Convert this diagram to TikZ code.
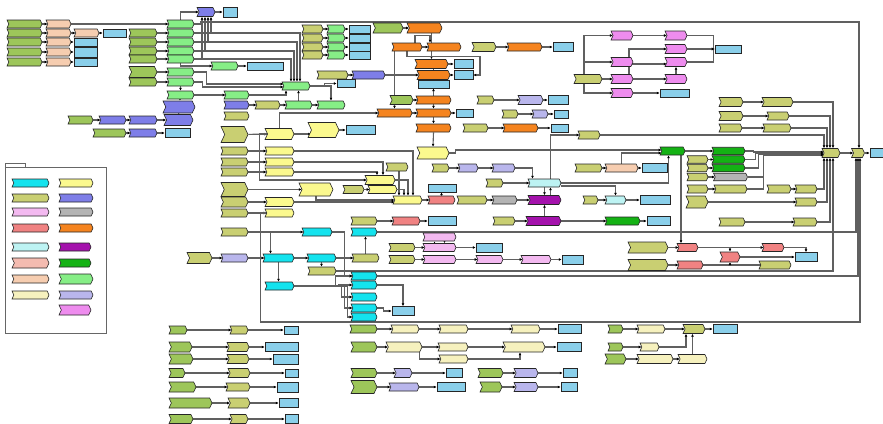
\documentclass[tikz,border=0pt]{standalone}
\usepackage{xcolor}
\usepackage{tikz}
\usetikzlibrary{arrows.meta,shapes.symbols,backgrounds}
\definecolor{cIn}{HTML}{9DC65A}
\definecolor{cKh}{HTML}{C9CF72}
\definecolor{cLi}{HTML}{86EE86}
\definecolor{cOut}{HTML}{8ACFEA}
\definecolor{cOr}{HTML}{F5841F}
\definecolor{cSl}{HTML}{7E7EE8}
\definecolor{cPk}{HTML}{F3B9F0}
\definecolor{cVi}{HTML}{EE8CEE}
\definecolor{cSa}{HTML}{F08282}
\definecolor{cPe}{HTML}{F6CDB0}
\definecolor{cPp}{HTML}{F4BBB0}
\definecolor{cYe}{HTML}{FBF98E}
\definecolor{cCr}{HTML}{F6F1BE}
\definecolor{cCy}{HTML}{14E3EE}
\definecolor{cLc}{HTML}{BDF3F3}
\definecolor{cMg}{HTML}{A412AC}
\definecolor{cGr}{HTML}{14B214}
\definecolor{cGy}{HTML}{B4B4B4}
\definecolor{cLv}{HTML}{B9B6EC}
\definecolor{cLine}{HTML}{606060}

\begin{document}
\begin{tikzpicture}[x=1pt,y=-1pt,
  nd/.style={signal,signal to=east,signal from=west,signal pointer angle=130,
             draw=black!85,line width=0.6pt,inner sep=0pt,minimum height=8pt},
  wd/.style={minimum width=#1pt},
  ht/.style={minimum height=#1pt},
  nIn/.style={nd,fill=cIn}, nKh/.style={nd,fill=cKh}, nLi/.style={nd,fill=cLi},
  nOr/.style={nd,fill=cOr}, nSl/.style={nd,fill=cSl}, nPk/.style={nd,fill=cPk},
  nVi/.style={nd,fill=cVi}, nSa/.style={nd,fill=cSa}, nPe/.style={nd,fill=cPe},
  nPp/.style={nd,fill=cPp}, nYe/.style={nd,fill=cYe}, nCr/.style={nd,fill=cCr},
  nCy/.style={nd,fill=cCy}, nLc/.style={nd,fill=cLc}, nMg/.style={nd,fill=cMg},
  nGr/.style={nd,fill=cGr}, nGy/.style={nd,fill=cGy}, nLv/.style={nd,fill=cLv},
  nOut/.style={rectangle,draw=black!85,line width=0.6pt,inner sep=0pt,
               minimum height=8pt,fill=cOut},
  ar/.style={line width=1.1pt,cLine,-{Latex[length=2.8pt,width=2.8pt,color=black]}}]
\useasboundingbox (0,0) rectangle (883,423);
\draw[draw=black!60,fill=white,line width=0.6pt] (5,163) rectangle (25,167);
\draw[draw=black!60,fill=white,line width=0.6pt] (5,167) rectangle (106,333);
\node[nCy,wd=37] (l1) at (30.5,183) {};
\node[nKh,wd=37] (l2) at (30.5,198) {};
\node[nPk,wd=37] (l3) at (30.5,212) {};
\node[nSa,wd=37] (l4) at (30.5,228) {};
\node[nLc,wd=37] (l5) at (30.5,247) {};
\node[nPp,wd=37,ht=10] (l6) at (30.5,263) {};
\node[nPe,wd=37] (l7) at (30.5,279) {};
\node[nCr,wd=37] (l8) at (30.5,295) {};
\node[nYe,wd=34] (r1) at (76,183) {};
\node[nSl,wd=34] (r2) at (76,198) {};
\node[nGy,wd=34] (r3) at (76,212) {};
\node[nOr,wd=34] (r4) at (76,228) {};
\node[nMg,wd=32] (r5) at (75,247) {};
\node[nGr,wd=32] (r6) at (75,263) {};
\node[nLi,wd=34,ht=10] (r7) at (76,279) {};
\node[nLv,wd=34] (r8) at (76,295) {};
\node[nVi,wd=32,ht=10] (r9) at (75,310) {};

\node[nIn,wd=35] (a1) at (24.5,24) {};
\node[nIn,wd=35] (a2) at (24.5,33) {};
\node[nIn,wd=35] (a3) at (24.5,42) {};
\node[nIn,wd=35] (a4) at (24.5,52) {};
\node[nIn,wd=35] (a5) at (24.5,62) {};
\node[nPe,wd=25] (b1) at (58.5,24) {};
\node[nPe,wd=25] (b2) at (58.5,33) {};
\node[nPe,wd=25] (b3) at (58.5,42) {};
\node[nPe,wd=25] (b4) at (58.5,52) {};
\node[nPe,wd=25] (b5) at (58.5,62) {};
\node[nPe,wd=25] (b6) at (86.5,33) {};
\node[nOut,wd=23] (o2) at (114.5,33) {};
\node[nOut,wd=23] (o3) at (85.5,42) {};
\node[nOut,wd=23,ht=10] (o4) at (85.5,52) {};
\node[nOut,wd=23] (o5) at (85.5,62) {};
\node[nIn,wd=28] (i2) at (143,33) {};
\node[nIn,wd=28] (i3) at (143,42) {};
\node[nIn,wd=28] (i4) at (143,51) {};
\node[nIn,wd=28] (i5) at (143,59) {};
\node[nIn,wd=28,ht=11] (i6) at (143,72) {};
\node[nIn,wd=28] (i7) at (143,82) {};
\node[nLi,wd=27] (g1) at (180.5,24) {};
\node[nLi,wd=27] (g2) at (180.5,33) {};
\node[nLi,wd=27] (g3) at (180.5,42) {};
\node[nLi,wd=27] (g4) at (180.5,51) {};
\node[nLi,wd=27] (g5) at (180.5,59) {};
\node[nLi,wd=27] (g6) at (180.5,72) {};
\node[nLi,wd=27] (g7) at (180.5,82) {};
\node[nSl,wd=18,ht=9] (p0) at (206,12) {};
\node[nOut,wd=14,ht=10] (o0) at (230,12) {};
\node[nLi,wd=27] (s1) at (224.5,66) {};
\node[nOut,wd=36] (o6) at (265,66) {};
\node[nLi,wd=27] (g8) at (180.5,95) {};
\node[nSl,wd=32,ht=12] (pb1) at (179,107) {};
\node[nSl,wd=29,ht=11] (pb2) at (178.5,120) {};
\node[nOut,wd=25,ht=9] (ob1) at (177.5,133) {};
\node[nIn,wd=25] (x1) at (80.5,120) {};
\node[nSl,wd=27] (x2) at (112.5,120) {};
\node[nSl,wd=28] (x3) at (143,120) {};
\node[nIn,wd=33] (y1) at (109.5,133) {};
\node[nSl,wd=28] (y2) at (143,133) {};
\node[nLi,wd=25] (u1) at (236.5,95) {};
\node[nSl,wd=25] (u2) at (236.5,105) {};
\node[nKh,wd=25] (u3) at (236.5,116) {};
\node[nLi,wd=28] (h0) at (296,86) {};
\node[nKh,wd=25] (v1) at (267.5,105) {};
\node[nLi,wd=27] (v2) at (298.5,105) {};
\node[nLi,wd=28] (v3) at (331,105) {};
\node[nKh,wd=21] (k1) at (312.5,29) {};
\node[nKh,wd=21] (k2) at (312.5,38) {};
\node[nKh,wd=21] (k3) at (312.5,47) {};
\node[nKh,wd=21] (k4) at (312.5,55) {};
\node[nLi,wd=18] (m1) at (336,29) {};
\node[nLi,wd=18] (m2) at (336,38) {};
\node[nLi,wd=18] (m3) at (336,47) {};
\node[nLi,wd=18] (m4) at (336,55) {};
\node[nOut,wd=21] (q1) at (359.5,29) {};
\node[nOut,wd=21] (q2) at (359.5,38) {};
\node[nOut,wd=21] (q3) at (359.5,47) {};
\node[nOut,wd=21] (q4) at (359.5,55) {};
\node[nKh,wd=31] (kk1) at (332.5,75) {};
\node[nSl,wd=33] (pp1) at (368.5,75) {};
\node[nOut,wd=18] (o7) at (346,83.5) {};

\node[nIn,wd=30,ht=10] (ok1) at (388,28) {};
\node[nOr,wd=35,ht=10] (or1) at (424.5,28) {};
\node[nOr,wd=30] (or2) at (407,47) {};
\node[nOr,wd=34] (or3) at (444,47) {};
\node[nOr,wd=33,ht=9] (or4) at (431.5,64) {};
\node[nOut,wd=19,ht=9] (ob4) at (463.5,64) {};
\node[nOr,wd=33,ht=9] (or5) at (433.5,75) {};
\node[nOut,wd=19,ht=9] (ob5) at (463.5,75) {};
\node[nOut,wd=31] (ob6) at (433.5,84) {};
\node[nIn,wd=23,ht=9] (ok2) at (401.5,100) {};
\node[nOr,wd=35] (or6) at (433.5,100) {};
\node[nOr,wd=35] (or7) at (394.5,113) {};
\node[nOr,wd=35] (or8) at (433.5,113) {};
\node[nOut,wd=17] (ob8) at (464.5,113) {};
\node[nOr,wd=35] (or9) at (433.5,128) {};
\node[nKh,wd=24,ht=9] (rk1) at (484,47) {};
\node[nOr,wd=35] (ro1) at (524.5,47) {};
\node[nOut,wd=20,ht=9] (rb1) at (563,47) {};
\node[nKh,wd=17] (rk2) at (485.5,100) {};
\node[nLv,wd=25,ht=9] (rl2) at (530.5,100) {};
\node[nOut,wd=20,ht=9] (rb2) at (558,100) {};
\node[nKh,wd=16] (rk3) at (510,114) {};
\node[nLv,wd=16] (rl3) at (540,114) {};
\node[nOut,wd=14] (rb3) at (561,114) {};
\node[nKh,wd=25] (rk4) at (475.5,128) {};
\node[nOr,wd=35] (ro4) at (520.5,128) {};
\node[nOut,wd=17] (rb4) at (559.5,128) {};

\node[nKh,wd=28,ht=9] (pk) at (588,79) {};
\node[nVi,wd=22,ht=9] (pv1) at (622,35.5) {};
\node[nVi,wd=22,ht=9] (pv2) at (622,62) {};
\node[nVi,wd=22,ht=9] (pv3) at (622,79) {};
\node[nVi,wd=22,ht=9] (pv4) at (622,93) {};
\node[nVi,wd=22,ht=9] (pw1) at (676,35.5) {};
\node[nVi,wd=22,ht=9] (pw2) at (676,49) {};
\node[nVi,wd=22,ht=9] (pw3) at (676,62) {};
\node[nVi,wd=22,ht=9] (pw4) at (676,79) {};
\node[nOut,wd=26] (pvo) at (728,49) {};
\node[nOut,wd=29] (pwo) at (674.5,93) {};

\node[nKh,wd=24,ht=9] (rt1) at (731,102) {};
\node[nKh,wd=31,ht=9] (rt1b) at (777.5,102) {};
\node[nKh,wd=24,ht=9] (rt2) at (731,116) {};
\node[nKh,wd=22] (rt2b) at (778,116) {};
\node[nKh,wd=23] (rt3) at (730.5,128) {};
\node[nKh,wd=28] (rt3b) at (777,128) {};
\node[nKh,wd=22] (rt0) at (589,135) {};
\node[nKh,wd=18,ht=9] (A) at (831,153) {};
\node[nKh,wd=13,ht=9] (B) at (858,153) {};
\node[nOut,wd=16,ht=9] (Bo) at (878,153) {};

\node[nGr,wd=25] (gr0) at (672.5,151) {};
\node[nGr,wd=33,ht=7.5] (gc1) at (728.5,151) {};
\node[nGr,wd=33,ht=7.5] (gc2) at (728.5,159.5) {};
\node[nGr,wd=33,ht=7.5] (gc3) at (728.5,168) {};
\node[nGy,wd=34,ht=7.5] (gg) at (730.5,177) {};
\node[nKh,wd=21,ht=7.5] (kc1) at (697.5,159.5) {};
\node[nKh,wd=21,ht=7.5] (kc2) at (697.5,168) {};
\node[nKh,wd=21,ht=7.5] (kc3) at (697.5,177) {};
\node[nKh,wd=21] (kc4) at (697.5,189) {};
\node[nKh,wd=33] (kc4b) at (730.5,189) {};
\node[nKh,wd=22,ht=12] (kc5) at (697,202) {};
\node[nKh,wd=24] (kr1) at (779,189) {};
\node[nKh,wd=22] (kr1b) at (806,189) {};
\node[nKh,wd=22] (kr2) at (806,202) {};
\node[nKh,wd=26] (kr3a) at (732,222) {};
\node[nKh,wd=24] (kr3) at (805,222) {};
\node[nKh,wd=27] (pe1) at (588.5,168) {};
\node[nPe,wd=33] (pe2) at (621.5,168) {};
\node[nOut,wd=25,ht=9] (pe3) at (654.5,168) {};
\node[nKh,wd=15] (lc2) at (590.5,200) {};
\node[nLc,wd=21] (lc3) at (615.5,200) {};
\node[nOut,wd=30,ht=9] (lc4) at (655,200) {};
\node[nGr,wd=35] (gn) at (622.5,221) {};
\node[nOut,wd=23,ht=9] (gnb) at (658.5,221) {};

\node[nLc,wd=33] (lc1) at (544.5,183) {};
\node[nKh,wd=17] (lk1) at (494.5,183) {};
\node[nKh,wd=17] (kv1) at (440.5,168) {};
\node[nLv,wd=20] (lv1) at (468,168) {};
\node[nLv,wd=23] (lv2) at (503.5,168) {};
\node[nMg,wd=33,ht=9] (mg1) at (544.5,200) {};
\node[nMg,wd=35,ht=9] (mg2) at (543.5,221) {};
\node[nKh,wd=22] (kq) at (504,221) {};
\node[nYe,wd=29] (ly0) at (407.5,200) {};
\node[nSa,wd=27] (sl1) at (441.5,200) {};
\node[nKh,wd=30] (kz) at (472,200) {};
\node[nGy,wd=25] (gy) at (504.5,200) {};
\node[nOut,wd=28] (sb) at (442,188) {};
\node[nSa,wd=28] (sl2) at (406,221) {};
\node[nOut,wd=28,ht=9] (sb2) at (442,221) {};
\node[nKh,wd=26] (kq0) at (364,221) {};

\node[nKh,wd=27,ht=16] (ya) at (234.5,134.5) {};
\node[nYe,wd=29,ht=11] (yb) at (279.5,134) {};
\node[nYe,wd=31,ht=15] (yc) at (323.5,130) {};
\node[nOut,wd=29,ht=9] (yd) at (360.5,130) {};
\node[nKh,wd=27] (yk1) at (234.5,151) {};
\node[nKh,wd=27] (yk2) at (234.5,162) {};
\node[nKh,wd=27] (yk3) at (234.5,172) {};
\node[nKh,wd=27,ht=14] (yk4) at (234.5,189.5) {};
\node[nKh,wd=27,ht=10] (yk5) at (234.5,202) {};
\node[nKh,wd=27] (yk6) at (234.5,213) {};
\node[nYe,wd=29] (yy1) at (279.5,151) {};
\node[nYe,wd=29] (yy2) at (279.5,162) {};
\node[nYe,wd=29] (yy3) at (279.5,172) {};
\node[nYe,wd=29,ht=9] (yy5) at (279.5,202) {};
\node[nYe,wd=29] (yy6) at (279.5,213) {};
\node[nYe,wd=34,ht=13] (ye) at (316,189.5) {};
\node[nKh,wd=22] (yf) at (397,167) {};
\node[nYe,wd=30,ht=9] (yg) at (380,180) {};
\node[nYe,wd=29] (yh) at (382.5,189.5) {};
\node[nKh,wd=21] (yi) at (353.5,189.5) {};
\node[nYe,wd=32,ht=12] (ly1) at (433,153) {};

\node[nKh,wd=27] (ck0) at (234.5,232) {};
\node[nCy,wd=30] (cy1) at (317,232) {};
\node[nCy,wd=26] (cy2) at (364,232) {};
\node[nKh,wd=25,ht=11] (kl) at (199.5,258) {};
\node[nLv,wd=27] (lv) at (234.5,258) {};
\node[nCy,wd=31] (cy3) at (278.5,258) {};
\node[nCy,wd=29] (cy4) at (321.5,258) {};
\node[nKh,wd=27] (kk) at (365.5,258) {};
\node[nKh,wd=28] (kx) at (322,271) {};
\node[nCy,wd=29] (cyl) at (279.5,286) {};
\node[nCy,wd=26] (cy5) at (364,276) {};
\node[nCy,wd=26] (cy6) at (364,285) {};
\node[nCy,wd=26] (cy7) at (364,297) {};
\node[nCy,wd=26] (cy8) at (364,308) {};
\node[nCy,wd=26] (cy9) at (364,317) {};
\node[nOut,wd=22,ht=9] (cyb) at (403,311) {};

\node[nPk,wd=33] (pm0) at (439.5,237) {};
\node[nKh,wd=26] (pmk1) at (402,247.5) {};
\node[nPk,wd=33] (pm1) at (439.5,247.5) {};
\node[nOut,wd=26,ht=9] (pmb1) at (489,247.5) {};
\node[nKh,wd=26] (pmk2) at (402,259.5) {};
\node[nPk,wd=33] (pm2) at (439.5,259.5) {};
\node[nPk,wd=27] (pm3) at (489.5,259.5) {};
\node[nPk,wd=30] (pm4) at (536,259.5) {};
\node[nOut,wd=21,ht=9] (pmb2) at (572.5,259.5) {};

\node[nKh,wd=40,ht=11] (sk1) at (648,247.5) {};
\node[nSa,wd=21] (ss1) at (687.5,247.5) {};
\node[nKh,wd=40,ht=11] (sk2) at (648,265) {};
\node[nSa,wd=26] (ss2) at (690,265) {};
\node[nSa,wd=20,ht=10] (sc) at (730,257) {};
\node[nSa,wd=22] (ss3) at (773,247.5) {};
\node[nOut,wd=22,ht=9] (sbo) at (806,257) {};
\node[nKh,wd=32] (sk3) at (775,265) {};

\node[nIn,wd=18] (bl1a) at (178,330) {};
\node[nKh,wd=18] (bl1b) at (239,330) {};
\node[nOut,wd=14] (bl1c) at (291,330) {};
\node[nIn,wd=23,ht=10] (bl2a) at (180.5,347) {};
\node[nKh,wd=22,ht=9] (bl2b) at (238,347) {};
\node[nOut,wd=33,ht=9] (bl2c) at (281.5,347) {};
\node[nIn,wd=24,ht=10] (bl3a) at (181,359) {};
\node[nKh,wd=22,ht=9] (bl3b) at (238,359) {};
\node[nOut,wd=25,ht=10] (bl3c) at (285.5,359) {};
\node[nIn,wd=16,ht=9] (bl4a) at (177,373) {};
\node[nKh,wd=22,ht=9] (bl4b) at (239,373) {};
\node[nOut,wd=13] (bl4c) at (291.5,373) {};
\node[nIn,wd=27,ht=10] (bl5a) at (182.5,387) {};
\node[nKh,wd=24] (bl5b) at (238,387) {};
\node[nOut,wd=21,ht=10] (bl5c) at (287.5,387) {};
\node[nIn,wd=43,ht=10] (bl6a) at (190.5,403) {};
\node[nKh,wd=22,ht=10] (bl6b) at (239,403) {};
\node[nOut,wd=19,ht=9] (bl6c) at (288.5,403) {};
\node[nIn,wd=24,ht=9] (bl7a) at (181,419) {};
\node[nKh,wd=18,ht=9] (bl7b) at (239,419) {};
\node[nOut,wd=13,ht=9] (bl7c) at (291.5,419) {};

\node[nIn,wd=27] (bm1a) at (363.5,329) {};
\node[nCr,wd=28] (bm1b) at (405,329) {};
\node[nCr,wd=29] (bm1c) at (453.5,329) {};
\node[nCr,wd=29] (bm1d) at (525.5,329) {};
\node[nOut,wd=23,ht=9] (bm1e) at (569.5,329) {};
\node[nIn,wd=26,ht=10] (bm2a) at (364,347) {};
\node[nCr,wd=36,ht=10] (bm2b) at (404,347) {};
\node[nCr,wd=30] (bm2c) at (453,347) {};
\node[nCr,wd=42,ht=10] (bm2d) at (524,347) {};
\node[nOut,wd=24,ht=9] (bm2e) at (569,347) {};
\node[nCr,wd=29] (bm3c) at (453.5,359) {};
\node[nIn,wd=26,ht=9] (bm4a) at (364,373) {};
\node[nLv,wd=18,ht=9] (bm4b) at (403,373) {};
\node[nOut,wd=16,ht=9] (bm4c) at (454,373) {};
\node[nIn,wd=26,ht=13] (bm5a) at (364,387) {};
\node[nLv,wd=30] (bm5b) at (404,387) {};
\node[nOut,wd=28,ht=9] (bm5c) at (451,387) {};
\node[nIn,wd=25,ht=9] (bm6a) at (490.5,373) {};
\node[nLv,wd=24,ht=9] (bm6b) at (526,373) {};
\node[nOut,wd=14,ht=9] (bm6c) at (570,373) {};
\node[nIn,wd=22,ht=10] (bm7a) at (491,387) {};
\node[nLv,wd=24,ht=9] (bm7b) at (526,387) {};
\node[nOut,wd=16,ht=9] (bm7c) at (569,387) {};
\node[nIn,wd=15] (br1a) at (615.5,329) {};
\node[nCr,wd=28] (br1b) at (651,329) {};
\node[nKh,wd=22,ht=9] (br1c) at (694,329) {};
\node[nOut,wd=24,ht=9] (br1d) at (725,329) {};
\node[nIn,wd=15] (br2a) at (615.5,347) {};
\node[nCr,wd=19] (br2b) at (649.5,347) {};
\node[nIn,wd=21,ht=10] (br3a) at (615.5,359) {};
\node[nCr,wd=36,ht=9] (br3b) at (655,359) {};
\node[nCr,wd=29,ht=9] (br3c) at (692.5,359) {};

\begin{scope}[on background layer]
\fill[white] (0,0) rectangle (883,423);
\foreach \a/\b in {a1/b1,a2/b2,a3/b3,a4/b4,a5/b5,b2/b6,b6/o2,b3/o3,b4/o4,b5/o5,b1/g1,
  i2/g2,i3/g3,i4/g4,i5/g5,i6/g6,i7/g7,p0/o0,s1/o6,g7/g8,g8/u1,g8/pb1,pb1/pb2,
  x1/x2,x2/x3,x3/pb2,y1/y2,y2/ob1,u2/v1,v1/v2,v2/v3,
  k1/m1,m1/q1,k2/m2,m2/q2,k3/m3,m3/q3,k4/m4,m4/q4,kk1/pp1,pp1/or5,
  ok1/or1,or2/or3,or4/ob4,or5/ob5,ok2/or6,or7/or8,or8/ob8,
  rk1/ro1,ro1/rb1,rk2/rl2,rl2/rb2,rk3/rl3,rl3/rb3,rk4/ro4,ro4/rb4,
  pk/pv3,pv1/pw1,pw2/pvo,pv3/pw4,pv4/pwo,pw4/pw3,
  rt1/rt1b,rt2/rt2b,rt3/rt3b,A/B,B/Bo,gr0/gc1,kc1/gc2,kc2/gc3,kc3/gg,kc4/kc4b,
  kc5/kr2,kr1/kr1b,kr3a/kr3,pe1/pe2,pe2/pe3,lc2/lc3,lc3/lc4,mg2/gn,gn/gnb,kq/mg2,
  lk1/lc1,kv1/lv1,lv1/lv2,kz/gy,gy/mg1,ly0/sl1,kq0/sl2,sl2/sb2,yi/yh,yk4/ye,ya/yb,yc/yd,
  yk1/yy1,yk2/yy2,yk3/yy3,yk5/yy5,yk6/yy6,ck0/cy1,kl/lv,lv/cy3,cy3/cy4,cy4/kk,
  pmk1/pm1,pm1/pmb1,pmk2/pm2,pm2/pm3,pm3/pm4,pm4/pmb2,sk1/ss1,sk2/ss2,ss1/ss3,sc/sbo,
  bm1a/bm1b,bm1b/bm1c,bm1c/bm1d,bm1d/bm1e,bm2a/bm2b,bm2b/bm2c,bm2c/bm2d,bm2d/bm2e,
  bm4a/bm4b,bm4b/bm4c,bm5a/bm5b,bm5b/bm5c,bm6a/bm6b,bm6b/bm6c,bm7a/bm7b,bm7b/bm7c,
  br1a/br1b,br1b/br1c,br1c/br1d,br2a/br2b,br3a/br3b,br3b/br3c}
  \draw[ar] (\a) -- (\b);
\foreach \i in {1,...,7} {\draw[ar] (bl\i a) -- (bl\i b); \draw[ar] (bl\i b) -- (bl\i c);}
\draw[ar] (g1.north) |- (p0.west);
\draw[ar] (g2.east) -| ([xshift=5pt]p0.south);
\draw[ar] (g3.east) -| ([xshift=2pt]p0.south);
\draw[ar] (g4.east) -| ([xshift=-1pt]p0.south);
\draw[ar] (g5.east) -| ([xshift=-4pt]p0.south);
\draw[ar] (g2.east) -| ([xshift=4pt]h0.north);
\draw[ar] (g3.east) -| ([xshift=1pt]h0.north);
\draw[ar] (g4.east) -| ([xshift=-2pt]h0.north);
\draw[ar] (g5.east) -| ([xshift=-5pt]h0.north);
\draw[ar] (g1.east) -- ++(6,0) -- ++(0,-2) -| ([xshift=1pt]B.north);
\draw[ar] (g5.south) |- (s1.west);
\draw[ar] (g6.east) -- ++(12,0) |- ([yshift=2pt]h0.west);
\draw[ar] (g7.east) -- ++(8,0) |- ([yshift=-1pt]h0.west);
\draw[ar] (u1.east) -| ([xshift=-10pt]h0.south);
\draw[ar] (v2.north) -- (v2.north |- h0.south);
\draw[ar] (h0.east) -| (v3.north);
\draw[ar] (h0.east) -- ++(14,0) |- (o7.west);
\draw[ar] (or4.north |- or1.south) -- (or4.north);
\draw[ar] ([xshift=8pt]or2.north) -- ++(0,-7) -| ([xshift=-14pt]or3.north);
\draw[ar] (or5.north |- or4.south) -- (or5.north);
\draw[ar] (or2.south) |- ++(73,5) |- (ob5.east);
\draw[ar] (or6.north) -- (or6.north |- ob6.south);
\draw[ar] (or6.south) -- (or8.north);
\draw[ar] (or8.south) -- (or9.north);
\draw[ar] (or9.south) -- (ly1.north);
\draw[ar] (or7.north |- or2.south) -- (or7.north);
\draw[ar] (yb.north) |- (or7.west);
\draw[ar] ([xshift=-4pt]pk.north) |- (pv1.west);
\draw[ar] ([xshift=-4pt]pk.north) |- (pv2.west);
\draw[ar] ([xshift=-4pt]pk.south) |- (pv4.west);
\draw[ar] (pw1.east) -- ++(26,0) |- (pvo.west);
\draw[ar] (pw3.east) -- ++(26,0) |- (pvo.west);
\draw[ar] ([xshift=7pt]pv2.north) |- (pw2.west);
\draw[ar] ([xshift=7pt]pv3.north) |- ([yshift=-2pt]pw3.west);
\draw[ar] (rt1b.east) -| ([xshift=2pt]A.north);
\draw[ar] (rt2b.east) -| ([xshift=-1pt]A.north);
\draw[ar] (rt3b.east) -| ([xshift=-4pt]A.north);
\draw[ar] (rt0.east) -| ([xshift=-7pt]A.north);
\draw[ar] ([xshift=6pt]lc1.north) |- (rt0.west);
\draw[ar] (gc1.east) -- ++(8,0) |- ([yshift=1pt]A.west);
\draw[ar] (gc2.east) -- ++(10,0) |- (A.west);
\draw[ar] (gc3.east) -- ++(13,0) |- ([yshift=-1pt]A.west);
\draw[ar] (gg.east) -- ++(16,0) |- ([yshift=-2pt]A.west);
\draw[ar] (kc4b.east) -- ++(16,0) |- ([yshift=-2pt]A.west);
\draw[ar] (kr1b.east) -| ([xshift=-7pt]A.south);
\draw[ar] (kr2.east) -| ([xshift=-4pt]A.south);
\draw[ar] (kr3.east) -| ([xshift=-1pt]A.south);
\draw[ar] (kx.east) -| ([xshift=2pt]A.south);
\draw[ar] (cy5.east) -| (B.south);
\draw[ar] (cy2.east) -| ([xshift=-2pt]B.south);
\draw[ar] (yy6.west) -- ++(-6,0) -- ++(0,109) -| ([xshift=2pt]B.south);
\draw[ar] ([xshift=-6.5pt]ss1.north |- gr0.south) -- ([xshift=-6.5pt]ss1.north);
\draw[ar] (pe2.north) |- ([yshift=-2pt]gr0.west);
\draw[ar] (ly1.east) -- ++(6,0) |- ([yshift=1pt]gr0.west);
\draw[ar] (lc1.east) -| ([xshift=-4pt]gr0.south);
\draw[ar] ([yshift=-3pt]lc1.east) -| (lc3.north);
\draw[ar] (lc1.south) -- (mg1.north);
\draw[ar] ([xshift=6pt]mg1.north) -- ([xshift=6pt]lc1.south);
\draw[ar] (mg1.south |- mg2.north) -- (mg1.south);
\draw[ar] (lv2.east) -| ([xshift=-12pt]lc1.north);
\draw[ar] (sl1.north) -- (sl1.north |- sb.south);
\draw[ar] (yy1.east) -| ([xshift=5.5pt]ly0.north);
\draw[ar] (yy2.east) -| ([xshift=3pt]yg.north);
\draw[ar] (yy3.east) -| ([xshift=-3pt]yg.north);
\draw[ar] (yg.east) -| ([xshift=0.5pt]ly0.north);
\draw[ar] ([xshift=2pt]yf.south) -- ([xshift=2pt]yf.south |- ly0.north);
\draw[ar] (yh.east) -| ([xshift=-3.5pt]ly0.north);
\draw[ar] (ye.south) |- (ly0.west);
\draw[ar] (yb.west) -- ++(-8,0) |- (yg.west);
\draw[ar] (yb) -- (yb -| yc.west);
\draw[ar] (yy5.east) -- ++(12,0) |- ([yshift=-2pt]ly0.west);
\draw[ar] (ck0.east) -| ([xshift=-8pt]cy3.north);
\draw[ar] (cy1.east) -- ++(12,0) |- (cy5.west);
\draw[ar] (kk.north) -- (kk.north |- cy2.south);
\draw[ar] (cy4.south) -- (cy4.south |- kx.north);
\draw[ar] (cy3.south) -- (cy3.south |- cyl.north);
\foreach \i/\d in {5/41,6/44,7/47,8/50,9/53} \draw[ar] (cyl.east) -- ++(\d,0) |- (cy\i.west);
\draw[ar] (cy6.east) -| (cyb.north);
\draw[ar] (cy8.east) -- ++(6,0) |- (cyb.west);
\draw[ar] ([xshift=-5pt]pm1.north) -- ([xshift=-5pt]pm0.south);
\draw[ar] ([xshift=5pt]pm0.south) -- ([xshift=5pt]pm1.north);
\draw[ar] (ss1.east) -| (sc.north);
\draw[ar] (ss2.east) -| (sc.south);
\draw[ar] (sk3.west) -| (sc.south);
\draw[ar] (ss3.east) -| (sbo.north);
\draw[ar] ([xshift=-3pt]bm2b.east) |- (bm3c.west);
\draw[ar] (bm3c.east) -| ([xshift=-4pt]bm2d.south);
\draw[ar] (br2b.east) -| ([xshift=-8pt]br1c.south);
\draw[ar] (br3c.north) -- (br3c.north |- br1c.south);
\end{scope}
\end{tikzpicture}
\end{document}
